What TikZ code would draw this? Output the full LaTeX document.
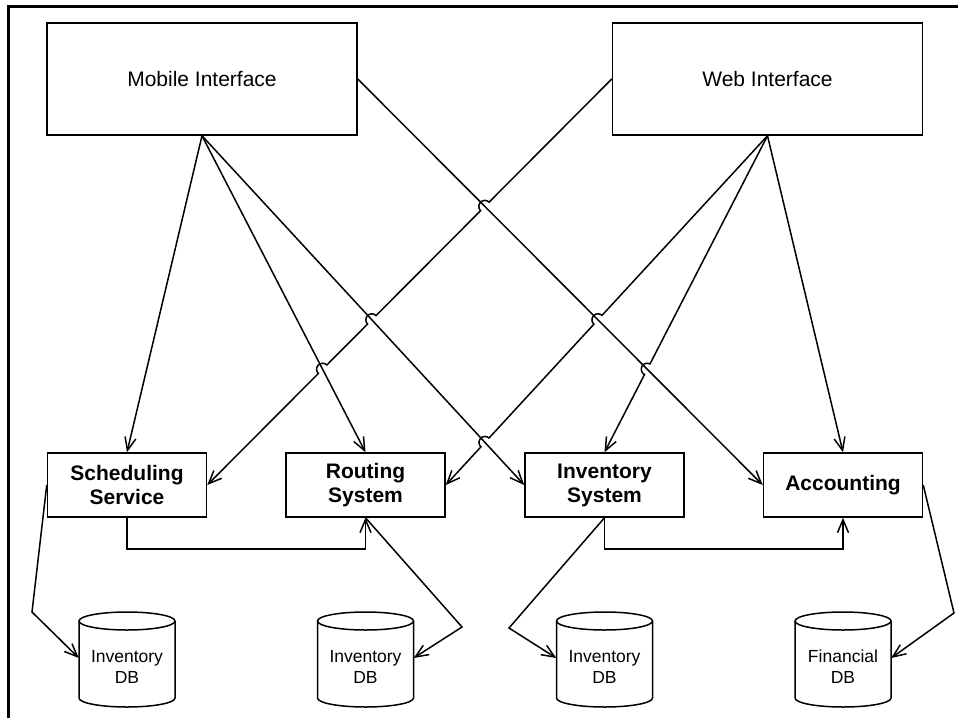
\documentclass[tikz,border=0pt]{standalone}
\usepackage{fontspec}
\setmainfont{Liberation Sans}
\usetikzlibrary{arrows.meta,calc,intersections}
\begin{document}
\begin{tikzpicture}[x=1pt,y=-1pt,
  ln/.style={line width=1.5pt},
  conn/.style={ln,-{Straight Barb[length=13pt,width=11pt,line width=1.5pt]}},
  topbox/.style={draw,ln,minimum width=310pt,minimum height=112pt,inner sep=0pt,font=\fontsize{21}{24}\selectfont},
  midbox/.style={draw,ln,minimum width=159pt,minimum height=64pt,inner sep=0pt,align=center,font=\fontsize{21}{24}\selectfont\bfseries},
  dbnode/.style={minimum width=96pt,minimum height=95pt,inner sep=0pt,align=center,font=\fontsize{17.5}{21}\selectfont}
]
\useasboundingbox (0,0) rectangle (958,718);
% frame
\draw[line width=3pt] (8.5,718) -- (8.5,6.5) -- (958,6.5);

% nodes
\node[topbox] (mob) at (202,79) {Mobile Interface};
\node[topbox] (web) at (767.5,79) {Web Interface};
\node[midbox] (sch) at (127,485) {Scheduling\\Service};
\node[midbox] (rout) at (365.5,485) {Routing\\System};
\node[midbox] (inv) at (604.5,485) {Inventory\\System};
\node[midbox] (acc) at (843,485) {Accounting};
\node[dbnode] (db1) at (127,667) {Inventory\\DB};
\node[dbnode] (db2) at (365.5,667) {Inventory\\DB};
\node[dbnode] (db3) at (604.5,667) {Inventory\\DB};
\node[dbnode] (db4) at (843,667) {Financial\\DB};

% cylinders
\foreach \n in {db1,db2,db3,db4}{
  \draw[ln] ($(\n.center)+(-48,-46)$) -- ($(\n.center)+(-48,31)$)
    arc[start angle=180,end angle=360,x radius=48pt,y radius=9pt]
    -- ($(\n.center)+(48,-46)$);
  \draw[ln] ($(\n.center)+(0,-46)$) ellipse[x radius=48pt,y radius=9pt];
}

% mobile connectors
\draw[conn] (mob.south) -- (sch.north);
\draw[conn,name path=mR] (mob.south) -- (rout.north);
\draw[conn,name path=mI] (mob.south) -- (inv.west);
\draw[conn,name path=mA] (mob.east) -- (acc.west);

% web connector paths for intersections
\path[name path=wS] (web.west) -- (sch.east);
\path[name path=wR] (web.south) -- (rout.east);
\path[name path=wI] (web.south) -- (inv.north);
\path[name intersections={of=wS and mA,by=s1}];
\path[name intersections={of=wS and mI,by=s2}];
\path[name intersections={of=wS and mR,by=s3}];
\path[name intersections={of=wR and mA,by=r1}];
\path[name intersections={of=wR and mI,by=r2}];
\path[name intersections={of=wI and mA,by=i1}];

% web connectors with hops
\draw[conn] let \p1=($(web.west)-(sch.east)$), \n1={atan2(\y1,\x1)} in
  (web.west) -- ($(s1)!6pt!(web.west)$) arc[start angle=\n1,delta angle=180,radius=6pt]
  -- ($(s2)!6pt!(web.west)$) arc[start angle=\n1,delta angle=180,radius=6pt]
  -- ($(s3)!6pt!(web.west)$) arc[start angle=\n1,delta angle=180,radius=6pt]
  -- (sch.east);
\draw[conn] let \p1=($(web.south)-(rout.east)$), \n1={atan2(\y1,\x1)} in
  (web.south) -- ($(r1)!6pt!(web.south)$) arc[start angle=\n1,delta angle=180,radius=6pt]
  -- ($(r2)!6pt!(web.south)$) arc[start angle=\n1,delta angle=180,radius=6pt]
  -- (rout.east);
\draw[conn] let \p1=($(web.south)-(inv.north)$), \n1={atan2(\y1,\x1)} in
  (web.south) -- ($(i1)!6pt!(web.south)$) arc[start angle=\n1,delta angle=180,radius=6pt]
  -- (inv.north);
\draw[conn] (web.south) -- (acc.north);

% service to service
\draw[conn] (sch.south) -- ++(0,31) -| (rout.south);
\draw[conn] (inv.south) -- ++(0,31) -| (acc.south);

% services to databases
\draw[conn] (sch.west) -- (32,612) -- ($(db1.west)+(0,-9)$);
\draw[conn] (rout.south) -- (462,627) -- ($(db2.east)+(0,-9)$);
\draw[conn] (inv.south) -- (509,628) -- ($(db3.west)+(0,-9)$);
\draw[conn] (acc.east) -- (954,613) -- ($(db4.east)+(0,-9)$);
\end{tikzpicture}
\end{document}
